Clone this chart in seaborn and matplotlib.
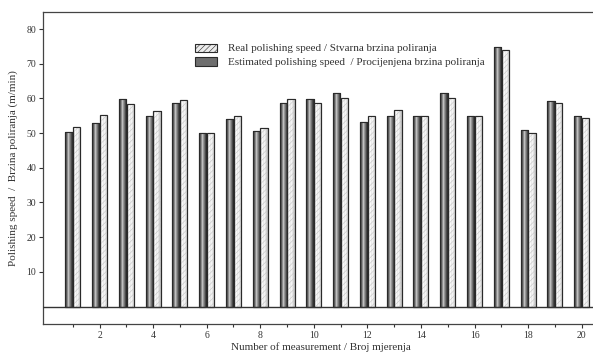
import numpy as np
import pandas as pd
import seaborn as sns
import matplotlib
matplotlib.use("Agg")
import matplotlib.pyplot as plt
from matplotlib.patches import Rectangle

measurement = list(range(1, 21))
estimated = [50.3, 53.0, 59.9, 54.9, 58.6, 50.0, 54.1, 50.6, 58.6, 59.9,
             61.7, 53.3, 55.0, 55.0, 61.7, 55.0, 74.8, 50.9, 59.2, 54.9]
real = [51.9, 55.2, 58.3, 56.4, 59.5, 50.0, 55.0, 51.4, 59.9, 58.6,
        60.0, 55.0, 56.6, 55.0, 60.0, 55.0, 74.0, 49.9, 58.6, 54.3]
real_label = "Real polishing speed / Stvarna brzina poliranja"
est_label = "Estimated polishing speed  / Procijenjena brzina poliranja"
x_ticks = [2, 4, 6, 8, 10, 12, 14, 16, 18, 20]
y_ticks = [10, 20, 30, 40, 50, 60, 70, 80]

df = pd.DataFrame({
    "Measurement": measurement * 2,
    "Speed": estimated + real,
    "Series": [est_label] * 20 + [real_label] * 20,
})

sns.set_theme(style="white")
plt.rcParams["font.family"] = ["Liberation Serif", "DejaVu Serif"]
plt.rcParams["hatch.linewidth"] = 0.4

fig = plt.figure(figsize=(5.93, 3.54), dpi=100)
ax = fig.add_axes([0.073, 0.085, 0.935, 0.882])

sns.barplot(data=df, x="Measurement", y="Speed", hue="Series",
            hue_order=[est_label, real_label],
            palette=["#6e6e6e", "#ececec"], native_scale=True,
            width=0.58, gap=0.06, ax=ax, legend=False,
            edgecolor="#2a2a2a", linewidth=0.8, errorbar=None)

dark_grad = np.array([0.15, 0.35, 0.55, 0.75, 0.6, 0.45, 0.3, 0.2])
light_grad = np.array([0.72, 0.88, 0.98, 0.92, 0.96, 0.9, 0.82, 0.74])
bars = list(ax.patches)
for i, p in enumerate(bars):
    x0, y0 = p.get_x(), p.get_y()
    w, h = p.get_width(), p.get_height()
    grad = dark_grad if i < 20 else light_grad
    im = ax.imshow(grad[np.newaxis, :], extent=[x0, x0 + w, y0, y0 + h],
                   aspect="auto", cmap="gray", vmin=0, vmax=1,
                   interpolation="bilinear", zorder=p.get_zorder() + 0.1)
    im.set_clip_path(p)
    if i >= 20:
        ax.add_patch(Rectangle((x0, y0), w, h, facecolor="none",
                               edgecolor="#c4c4c4", hatch="//////", lw=0,
                               zorder=p.get_zorder() + 0.2))
    ax.add_patch(Rectangle((x0, y0), w, h, facecolor="none",
                           edgecolor="#2a2a2a", lw=0.8,
                           zorder=p.get_zorder() + 0.3))

ax.axhline(0, color="#333333", lw=1.0, zorder=5)

ax.set_xlim(-0.1, 20.6)
ax.set_ylim(-5, 85)
ax.set_xticks(x_ticks)
ax.set_xticks([1, 3, 5, 7, 9, 11, 13, 15, 17, 19], minor=True)
ax.set_yticks(y_ticks)
ax.tick_params(axis="both", which="major", direction="out", length=3,
               width=0.8, color="#333333", labelsize=7, labelcolor="#333333",
               bottom=True, left=True, pad=2)
ax.tick_params(axis="x", which="minor", direction="out", length=2,
               width=0.8, color="#333333", bottom=True)
for s in ["left", "top", "bottom"]:
    ax.spines[s].set_color("#444444")
    ax.spines[s].set_linewidth(0.9)
ax.spines["right"].set_visible(False)

ax.set_xlabel("Number of measurement / Broj mjerenja", fontsize=8,
              color="#333333", labelpad=2)
ax.set_ylabel("Polishing speed  /  Brzina poliranja (m/min)", fontsize=8,
              color="#333333", labelpad=6)

h_real = Rectangle((0, 0), 1, 1, facecolor="#ececec", edgecolor="#2a2a2a",
                   hatch="//////", lw=0.8)
h_est = Rectangle((0, 0), 1, 1, facecolor="#6e6e6e", edgecolor="#2a2a2a",
                  lw=0.8)
ax.legend([h_real, h_est], [real_label, est_label], loc="upper left",
          bbox_to_anchor=(0.255, 0.93), frameon=False, fontsize=8,
          handlelength=2.0, handleheight=0.75, handletextpad=1.0,
          labelspacing=0.35, labelcolor="#333333")

fig.savefig("out.png", dpi=100)
